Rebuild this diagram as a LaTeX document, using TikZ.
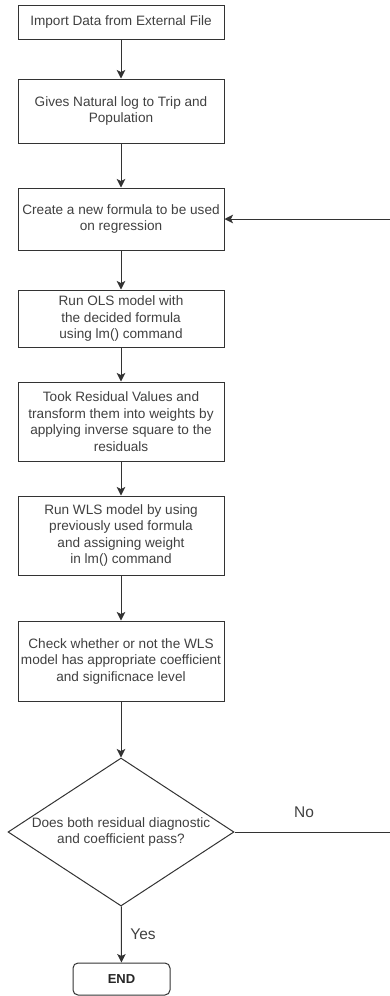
\documentclass[tikz,border=0pt]{standalone}
\usepackage{fontspec}
\setmainfont{Liberation Sans}
\usetikzlibrary{shapes.geometric,arrows.meta}
\begin{document}
\begin{tikzpicture}[x=1pt,y=-1pt,
  line/.style={draw=black!80, line width=1pt},
  arr/.style={line, -{Stealth[length=8.5pt,width=8.5pt,inset=2pt]}},
  stepbox/.style={line, rectangle, minimum width=206pt, inner sep=0pt, align=center,
     text=black!75, font=\fontsize{13.6}{16.5}\selectfont},
  dia/.style={line, diamond, aspect=1.53, inner sep=0pt, minimum width=226pt, minimum height=148pt},
  lbl/.style={text=black!75, font=\fontsize{15.5}{18}\selectfont, inner sep=0pt}
]
\useasboundingbox (0,0) rectangle (389,996);
\node[stepbox, minimum height=34pt] (b1) at (121,22) {Import Data from External File};
\node[stepbox, minimum height=64pt] (b2) at (121,111) {Gives Natural log to Trip and\\Population};
\node[stepbox, minimum height=62pt] (b3) at (121,219) {Create a new formula to be used\\on regression};
\node[stepbox, minimum height=57pt] (b4) at (121,318.5) {Run OLS model with\\the decided formula\\using lm() command};
\node[stepbox, minimum height=79pt] (b5) at (121,421.5) {Took Residual Values and\\transform them into weights by\\applying inverse square to the\\residuals};
\node[stepbox, minimum height=79pt] (b6) at (121,535.5) {Run WLS model by using\\previously used formula\\and assigning weight\\in lm() command};
\node[stepbox, minimum height=80pt] (b7) at (121,661) {Check whether or not the WLS\\model has appropriate coefficient\\and significnace level};
\node[dia] (d) at (121,832) {};
\node[text=black!75, align=center, inner sep=0pt, font=\fontsize{13.6}{16.5}\selectfont] (dt) at (d) {Does both residual diagnostic\\and coefficient pass?};
\node[line, rectangle, rounded corners=5pt, minimum width=97pt, minimum height=32pt, inner sep=0pt,
  font=\bfseries\fontsize{13}{15}\selectfont, text=black!85] (e) at (121.5,979) {END};
\coordinate (c1) at (390,832);
\coordinate (c2) at (390,219);
\draw[arr] (b1) -- (b2);
\draw[arr] (b2) -- (b3);
\draw[arr] (b3) -- (b4);
\draw[arr] (b4) -- (b5);
\draw[arr] (b5) -- (b6);
\draw[arr] (b6) -- (b7);
\draw[arr] (b7) -- (d);
\draw[arr] (d) -- (e);
\draw[arr] (d.east) -- (c1) -- (c2) -- (b3.east);
\node[lbl] (no) at (304,812) {No};
\node[lbl] (yes) at (143,934) {Yes};
\end{tikzpicture}
\end{document}
